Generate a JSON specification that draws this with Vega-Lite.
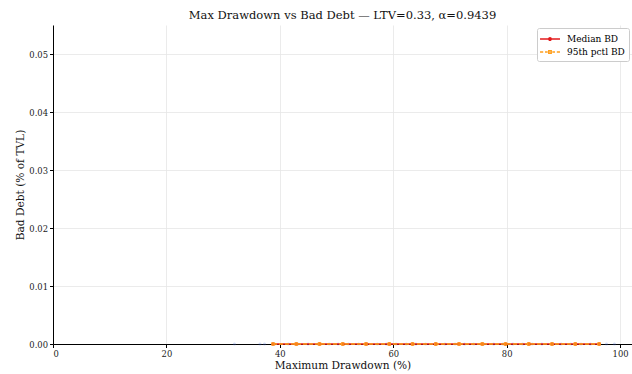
{
  "$schema": "https://vega.github.io/schema/vega-lite/v6.json",
  "width": 579,
  "height": 319,
  "autosize": {"type": "none"},
  "padding": {"left": 53, "top": 25, "right": 0, "bottom": 30},
  "background": "white",
  "config": {
    "font": "DejaVu Serif",
    "view": {"stroke": null},
    "axis": {"labelFont": "DejaVu Serif", "titleFont": "DejaVu Serif", "labelFontSize": 8.4, "titleFontSize": 10.6, "titleFontWeight": "normal", "labelColor": "#222", "titleColor": "#111", "gridColor": "#e6e6e6", "gridWidth": 0.8, "domainColor": "#000", "tickColor": "#000", "tickSize": 3.5, "labelPadding": 2, "titlePadding": 3},
    "legend": {"labelFont": "DejaVu Serif", "labelFontSize": 9}
  },
  "title": {"text": "Max Drawdown vs Bad Debt — LTV=0.33, α=0.9439", "font": "DejaVu Serif", "fontSize": 11.5, "fontWeight": "normal", "color": "#111", "offset": 4},
  "datasets": {
    "obs": [
      {"dd": 32.0, "bd": 0}, {"dd": 36.5, "bd": 0}, {"dd": 37.3, "bd": 0}, {"dd": 39.1, "bd": 0},
      {"dd": 41.5, "bd": 0}, {"dd": 43.2, "bd": 0}, {"dd": 45.0, "bd": 0}, {"dd": 46.8, "bd": 0},
      {"dd": 48.7, "bd": 0}, {"dd": 50.3, "bd": 0}, {"dd": 52.1, "bd": 0}, {"dd": 53.9, "bd": 0},
      {"dd": 55.4, "bd": 0}, {"dd": 57.2, "bd": 0}, {"dd": 58.8, "bd": 0}, {"dd": 60.5, "bd": 0},
      {"dd": 62.3, "bd": 0}, {"dd": 64.0, "bd": 0}, {"dd": 65.7, "bd": 0}, {"dd": 67.4, "bd": 0},
      {"dd": 69.1, "bd": 0}, {"dd": 70.9, "bd": 0}, {"dd": 72.6, "bd": 0}, {"dd": 74.2, "bd": 0},
      {"dd": 76.0, "bd": 0}, {"dd": 77.7, "bd": 0}, {"dd": 79.3, "bd": 0}, {"dd": 81.1, "bd": 0},
      {"dd": 82.8, "bd": 0}, {"dd": 84.5, "bd": 0}, {"dd": 86.2, "bd": 0}, {"dd": 88.0, "bd": 0},
      {"dd": 89.6, "bd": 0}, {"dd": 91.3, "bd": 0}, {"dd": 93.1, "bd": 0}, {"dd": 94.8, "bd": 0},
      {"dd": 96.4, "bd": 0}, {"dd": 97.6, "bd": 0}, {"dd": 99.0, "bd": 0}
    ],
    "bins": [
      {"dd": 38.8, "bd": 0, "series": "Median BD"}, {"dd": 42.9, "bd": 0, "series": "Median BD"},
      {"dd": 47.0, "bd": 0, "series": "Median BD"}, {"dd": 51.1, "bd": 0, "series": "Median BD"},
      {"dd": 55.2, "bd": 0, "series": "Median BD"}, {"dd": 59.3, "bd": 0, "series": "Median BD"},
      {"dd": 63.4, "bd": 0, "series": "Median BD"}, {"dd": 67.5, "bd": 0, "series": "Median BD"},
      {"dd": 71.6, "bd": 0, "series": "Median BD"}, {"dd": 75.7, "bd": 0, "series": "Median BD"},
      {"dd": 79.8, "bd": 0, "series": "Median BD"}, {"dd": 83.9, "bd": 0, "series": "Median BD"},
      {"dd": 88.0, "bd": 0, "series": "Median BD"}, {"dd": 92.1, "bd": 0, "series": "Median BD"},
      {"dd": 96.3, "bd": 0, "series": "Median BD"},
      {"dd": 38.8, "bd": 0, "series": "95th pctl BD"}, {"dd": 42.9, "bd": 0, "series": "95th pctl BD"},
      {"dd": 47.0, "bd": 0, "series": "95th pctl BD"}, {"dd": 51.1, "bd": 0, "series": "95th pctl BD"},
      {"dd": 55.2, "bd": 0, "series": "95th pctl BD"}, {"dd": 59.3, "bd": 0, "series": "95th pctl BD"},
      {"dd": 63.4, "bd": 0, "series": "95th pctl BD"}, {"dd": 67.5, "bd": 0, "series": "95th pctl BD"},
      {"dd": 71.6, "bd": 0, "series": "95th pctl BD"}, {"dd": 75.7, "bd": 0, "series": "95th pctl BD"},
      {"dd": 79.8, "bd": 0, "series": "95th pctl BD"}, {"dd": 83.9, "bd": 0, "series": "95th pctl BD"},
      {"dd": 88.0, "bd": 0, "series": "95th pctl BD"}, {"dd": 92.1, "bd": 0, "series": "95th pctl BD"},
      {"dd": 96.3, "bd": 0, "series": "95th pctl BD"}
    ]
  },
  "encoding": {
    "x": {"field": "dd", "type": "quantitative", "title": "Maximum Drawdown (%)",
      "scale": {"domain": [0, 102.1], "nice": false, "zero": false},
      "axis": {"values": [0, 20, 40, 60, 80, 100], "grid": true}},
    "y": {"field": "bd", "type": "quantitative", "title": "Bad Debt (% of TVL)",
      "scale": {"domain": [0, 0.055], "nice": false},
      "axis": {"values": [0, 0.01, 0.02, 0.03, 0.04, 0.05], "format": ".2f", "grid": true}}
  },
  "layer": [
    {
      "data": {"name": "obs"},
      "mark": {"type": "circle", "size": 10, "color": "#4a6fd6", "opacity": 0.25, "clip": false}
    },
    {
      "data": {"name": "bins"},
      "transform": [{"filter": "datum.series == 'Median BD'"}],
      "mark": {"type": "line", "strokeWidth": 1.5, "color": "#e31a1c", "clip": false}
    },
    {
      "data": {"name": "bins"},
      "transform": [{"filter": "datum.series == 'Median BD'"}],
      "mark": {"type": "point", "shape": "circle", "filled": true, "size": 12, "color": "#e31a1c", "opacity": 1, "clip": false}
    },
    {
      "data": {"name": "bins"},
      "transform": [{"filter": "datum.series == '95th pctl BD'"}],
      "mark": {"type": "line", "strokeWidth": 1.5, "strokeDash": [4, 2], "color": "#ff9f1c", "clip": false}
    },
    {
      "data": {"name": "bins"},
      "transform": [{"filter": "datum.series == '95th pctl BD'"}],
      "mark": {"type": "point", "shape": "square", "filled": true, "size": 12, "color": "#ff9f1c", "opacity": 1, "clip": false}
    },
    {
      "data": {"name": "bins"},
      "mark": {"type": "point", "size": 1, "filled": false, "strokeWidth": 1.5, "opacity": 1, "clip": false},
      "encoding": {
        "color": {"field": "series", "type": "nominal",
          "scale": {"domain": ["Median BD", "95th pctl BD"], "range": ["#e31a1c", "#ff9f1c"]},
          "legend": {"title": null, "orient": "none", "legendX": 484, "legendY": 3, "symbolSize": 144, "symbolStrokeWidth": 1.5, "strokeColor": "#cccccc", "fillColor": "white", "padding": 4, "cornerRadius": 2, "rowPadding": 1, "labelFontSize": 9, "labelOffset": 12}},
        "shape": {"field": "series", "type": "nominal",
          "scale": {"domain": ["Median BD", "95th pctl BD"], "range": ["M-1.33,0H2M0.13,0A0.2,0.2 0 1,1 0.53,0A0.2,0.2 0 1,1 0.13,0Z", "M-1.33,0H-0.8M-0.5,0H-0.05M0.72,0H1.17M1.47,0H2M0.13,-0.2H0.53V0.2H0.13Z"]},
          "legend": {"title": null, "orient": "none", "legendX": 484, "legendY": 3, "symbolSize": 144, "symbolStrokeWidth": 1.5, "strokeColor": "#cccccc", "fillColor": "white", "padding": 4, "cornerRadius": 2, "rowPadding": 1, "labelFontSize": 9, "labelOffset": 12}}
      }
    }
  ]
}
